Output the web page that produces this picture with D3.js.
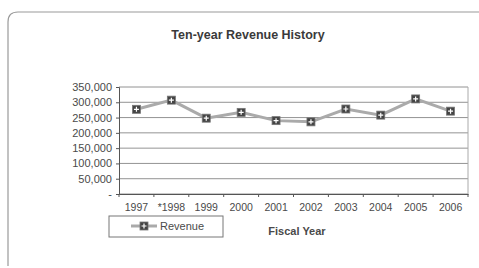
<!DOCTYPE html>
<html>
<head>
<meta charset="utf-8">
<script src="https://cdn.jsdelivr.net/npm/d3@7"></script>
<style>
  body { margin: 0; background: #fff; }
  svg { display: block; font-family: "Liberation Sans", Arial, sans-serif; }
</style>
</head>
<body>
<svg id="chart" width="479" height="268"></svg>
<script>
// dati
const years = ["1997", "*1998", "1999", "2000", "2001", "2002", "2003", "2004", "2005", "2006"];
const revenue = [277000, 307000, 248000, 267000, 240000, 236000, 278000, 258000, 311000, 271000];
const yTicks = [0, 50000, 100000, 150000, 200000, 250000, 300000, 350000];

const svg = d3.select("#chart");

// cornice esterna
svg.append("path")
    .attr("d", "M8,266 L8,22 Q8,12 18,12 L479,12")
    .attr("fill", "none")
    .attr("stroke", "#9a9a9a")
    .attr("stroke-width", 1.2);

svg.append("text")
    .attr("x", 248)
    .attr("y", 39)
    .attr("text-anchor", "middle")
    .attr("font-size", 12.5)
    .attr("font-weight", "bold")
    .attr("fill", "#3a3a3a")
    .text("Ten-year Revenue History");

const plotLeft = 119, plotRight = 468, plotTop = 87, plotBottom = 194;

const x = d3.scaleBand().domain(years).range([plotLeft, plotRight]);
const y = d3.scaleLinear().domain([0, 350000]).range([plotBottom, plotTop]);

// griglia
svg.append("g")
    .selectAll("line")
    .data(yTicks)
    .join("line")
    .attr("x1", plotLeft)
    .attr("x2", plotRight)
    .attr("y1", d => y(d))
    .attr("y2", d => y(d))
    .attr("stroke", "#777")
    .attr("stroke-width", 0.8);

svg.append("line")
    .attr("x1", plotRight).attr("x2", plotRight)
    .attr("y1", plotTop).attr("y2", plotBottom)
    .attr("stroke", "#aaa");

// asse y
const yAxis = svg.append("g")
    .attr("transform", `translate(${plotLeft},0)`)
    .call(d3.axisLeft(y).tickValues(yTicks).tickSize(3)
        .tickFormat(d => d === 0 ? "-" : d3.format(",")(d)));
yAxis.select(".domain").attr("stroke", "#555");
yAxis.selectAll(".tick line").attr("stroke", "#555");
yAxis.selectAll("text")
    .attr("font-size", 11)
    .attr("fill", "#4a4a4a")
    .attr("font-family", "Liberation Sans, Arial, sans-serif")
    .attr("x", -7);

// asse x
const xAxis = svg.append("g")
    .attr("transform", `translate(0,${plotBottom})`)
    .call(d3.axisBottom(x).tickSize(0).tickPadding(10));
xAxis.select(".domain").attr("stroke", "#555");
xAxis.selectAll("text")
    .attr("font-size", 10.5)
    .attr("fill", "#4a4a4a")
    .attr("font-family", "Liberation Sans, Arial, sans-serif");

// tacche tra le categorie
svg.append("g")
    .selectAll("line")
    .data(d3.range(years.length + 1))
    .join("line")
    .attr("x1", i => plotLeft + i * x.step())
    .attr("x2", i => plotLeft + i * x.step())
    .attr("y1", plotBottom)
    .attr("y2", plotBottom + 3)
    .attr("stroke", "#555");

const cx = d => x(d) + x.bandwidth() / 2;

const line = d3.line()
    .x((d, i) => cx(years[i]))
    .y(d => y(d));

svg.append("path")
    .datum(revenue)
    .attr("d", line)
    .attr("fill", "none")
    .attr("stroke", "#aaa")
    .attr("stroke-width", 3);

function marker(g, px, py) {
    g.append("rect")
        .attr("x", px - 4).attr("y", py - 4)
        .attr("width", 8).attr("height", 8)
        .attr("fill", "#444").attr("stroke", "#777").attr("stroke-width", 0.8);
    g.append("path")
        .attr("d", `M${px - 2.5},${py} H${px + 2.5} M${px},${py - 2.5} V${py + 2.5}`)
        .attr("stroke", "#fff").attr("stroke-width", 1.2);
}

const markers = svg.append("g");
revenue.forEach((v, i) => marker(markers, cx(years[i]), y(v)));

// legenda
svg.append("rect")
    .attr("x", 109).attr("y", 216)
    .attr("width", 114).attr("height", 21)
    .attr("fill", "none").attr("stroke", "#777");
svg.append("line")
    .attr("x1", 131).attr("x2", 157).attr("y1", 226).attr("y2", 226)
    .attr("stroke", "#aaa").attr("stroke-width", 3);
marker(svg, 144, 226);
svg.append("text")
    .attr("x", 160).attr("y", 230)
    .attr("font-size", 11).attr("fill", "#4a4a4a")
    .text("Revenue");

svg.append("text")
    .attr("x", 297).attr("y", 235)
    .attr("text-anchor", "middle")
    .attr("font-size", 11).attr("font-weight", "bold").attr("fill", "#4a4a4a")
    .text("Fiscal Year");
</script>
</body>
</html>
